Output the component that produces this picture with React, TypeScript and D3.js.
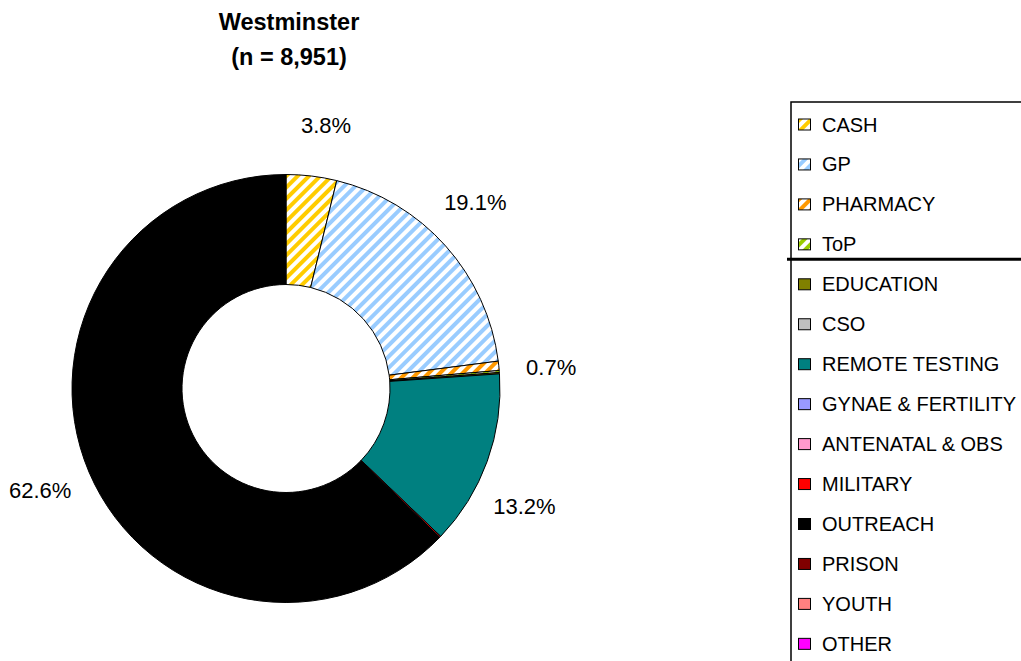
import React from "react";
import * as d3 from "d3";

const categories = [
  "CASH",
  "GP",
  "PHARMACY",
  "ToP",
  "EDUCATION",
  "CSO",
  "REMOTE TESTING",
  "GYNAE & FERTILITY",
  "ANTENATAL & OBS",
  "MILITARY",
  "OUTREACH",
  "PRISON",
  "YOUTH",
  "OTHER",
];
const values = [3.8, 19.1, 0.7, 0.15, 0.1, 0, 13.2, 0, 0, 0.1, 62.6, 0, 0, 0];
const colors = [
  "#FFCC00",
  "#99CCFF",
  "#FF9900",
  "#99CC00",
  "#808000",
  "#C0C0C0",
  "#008080",
  "#9999FF",
  "#FF99CC",
  "#FF0000",
  "#000000",
  "#800000",
  "#FF8080",
  "#FF00FF",
];
const striped = [true, true, true, true, false, false, false, false, false, false, false, false, false, false];
const titleLines = ["Westminster", "(n = 8,951)"];

// layout
const W = 1021;
const H = 661;
const cx = 286;
const cy = 388.5;
const outerR = 214;
const innerR = 104;
const labelR = 266;
const labelAngleNudge: Record<string, number> = { CASH: 1.8, GP: -2.8, PHARMACY: 1.5, "REMOTE TESTING": 6.4, OUTREACH: 0.5 };
const legendX = 791;
const legendTop = 102;
const legendRow0 = 124.5;
const legendStep = 39.95;
const separatorAfter = 3;

export default function App() {
  const pie = d3
    .pie<number>()
    .sort(null)
    .value((d) => d)(values);
  const arc = d3.arc<d3.PieArcDatum<number>>().innerRadius(innerR).outerRadius(outerR);
  const fillFor = (i: number) => (striped[i] ? `url(#stripe${i})` : colors[i]);
  const fmt = d3.format(".1f");

  return (
    <svg
      width={W}
      height={H}
      style={{ position: "absolute", left: 0, top: 0, background: "#fff" }}
      fontFamily="'Liberation Sans', Arial, sans-serif"
    >
      <defs>
        {colors.map((c, i) =>
          striped[i] ? (
            <pattern
              key={i}
              id={`stripe${i}`}
              patternUnits="userSpaceOnUse"
              width={8}
              height={8}
              patternTransform="rotate(45)"
            >
              <rect width={8} height={8} fill="#fff" />
              <rect width={4} height={8} fill={c} />
            </pattern>
          ) : null
        )}
      </defs>
      <rect width={W} height={H} fill="#fff" />

      {/* title */}
      <text x={289} y={29.5} textAnchor="middle" fontWeight="bold" fontSize={23.5} fill="#000">
        {titleLines[0]}
      </text>
      <text x={289} y={64.5} textAnchor="middle" fontWeight="bold" fontSize={23.5} fill="#000">
        {titleLines[1]}
      </text>

      {/* donut */}
      <g transform={`translate(${cx},${cy})`}>
        {pie.map((d, i) =>
          d.value > 0 ? (
            <path key={i} d={arc(d) || ""} fill={fillFor(i)} stroke="#000" strokeWidth={1} />
          ) : null
        )}
        {pie.map((d, i) => {
          if (d.value < 0.5) return null;
          const mid = (d.startAngle + d.endAngle) / 2 + ((labelAngleNudge[categories[i]] || 0) * Math.PI) / 180;
          const x = labelR * Math.sin(mid);
          const y = -labelR * Math.cos(mid);
          return (
            <text
              key={`l${i}`}
              x={x}
              y={y}
              dy="0.36em"
              textAnchor="middle"
              fontSize={22}
              fill="#000"
            >
              {fmt(d.value)}%
            </text>
          );
        })}
      </g>

      {/* legend */}
      <g>
        <rect
          x={legendX}
          y={legendTop}
          width={W - legendX + 10}
          height={H - legendTop + 10}
          fill="#fff"
          stroke="#000"
          strokeWidth={1.5}
        />
        <line
          x1={legendX - 4}
          x2={W}
          y1={legendRow0 + legendStep * separatorAfter + 15}
          y2={legendRow0 + legendStep * separatorAfter + 15}
          stroke="#000"
          strokeWidth={3}
        />
        {categories.map((c, i) => {
          const yc = legendRow0 + legendStep * i;
          return (
            <g key={c}>
              <rect x={798.5} y={yc - 5.5} width={12} height={11} fill={fillFor(i)} stroke="#000" strokeWidth={1} />
              <text x={822} y={yc + 7} fontSize={20} fill="#000">
                {c}
              </text>
            </g>
          );
        })}
      </g>
    </svg>
  );
}
